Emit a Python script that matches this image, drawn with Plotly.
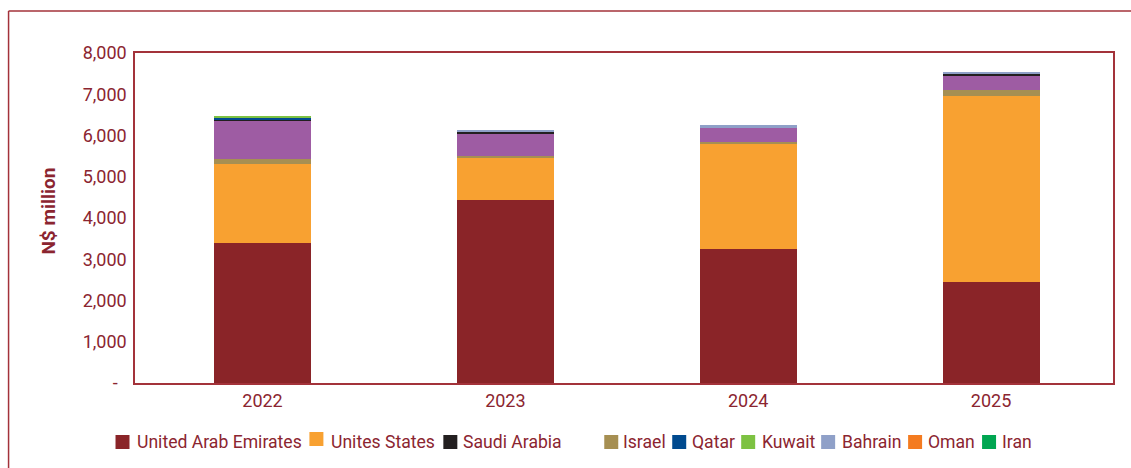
import plotly.graph_objects as go

# ---- data (N$ million) ----
years = ["2022", "2023", "2024", "2025"]
uae = [3390, 4440, 3240, 2460]
usa = [1930, 1020, 2560, 4490]
israel = [100, 50, 50, 150]
other = [950, 540, 340, 365]
saudi = [20, 25, 0, 25]
qatar = [25, 0, 0, 0]
kuwait = [50, 0, 0, 0]
bahrain = [0, 70, 70, 50]
oman = [0, 0, 0, 0]
iran = [0, 0, 0, 0]

y_ticks = [0, 1000, 2000, 3000, 4000, 5000, 6000, 7000, 8000]
y_ticktext = ["-\u00a0\u00a0"] + [f"{v:,}" for v in y_ticks[1:]]

# stacking order (bottom to top): name, values, colour, shown in legend
stack = [
    ("United Arab Emirates", uae, "#8A2428", True),
    ("Unites States", usa, "#F8A131", True),
    ("Israel", israel, "#A68F52", True),
    ("Other", other, "#9E5CA3", False),
    ("Saudi Arabia", saudi, "#231F20", True),
    ("Qatar", qatar, "#004A8F", True),
    ("Kuwait", kuwait, "#7DC242", True),
    ("Bahrain", bahrain, "#8FA0C8", True),
    ("Oman", oman, "#F47B20", True),
    ("Iran", iran, "#00A651", True),
]
legend_order = ["United Arab Emirates", "Unites States", "Saudi Arabia", "Israel",
                "Qatar", "Kuwait", "Bahrain", "Oman", "Iran"]

TEXT = "#8B2530"
LINE = "#A3323A"
FONT = "Roboto, Arial, sans-serif"

W, H = 1131, 468
M_L, M_R, M_T, M_B = 134.5, 18, 53, 85
PW, PH = W - M_L - M_R, H - M_T - M_B


def px_x(p):
    return (p - M_L) / PW


def px_y(p):
    return (H - M_B - p) / PH


fig = go.Figure()
for name, vals, col, _ in stack:
    fig.add_trace(go.Bar(x=years, y=vals, name=name, marker_color=col,
                         marker_line_width=0, width=0.4, showlegend=False))

# legend drawn as swatches + labels in a single row under the axis
legend_pos = {  # name: (swatch left px, swatch top px, label left px)
    "United Arab Emirates": (115, 435, 135),
    "Unites States": (309, 432, 330),
    "Saudi Arabia": (443, 435, 462),
    "Israel": (604, 435, 622),
    "Qatar": (672, 435, 691),
    "Kuwait": (741, 435, 761),
    "Bahrain": (821, 435, 841),
    "Oman": (908, 435, 927),
    "Iran": (982, 435, 1001),
}
colors = {name: col for name, _, col, _ in stack}
shapes = []
annotations = []
for name in legend_order:
    sx, sy, tx = legend_pos[name]
    shapes.append(dict(type="rect", xref="paper", yref="paper",
                       x0=px_x(sx), x1=px_x(sx + 14), y0=px_y(sy + 14), y1=px_y(sy),
                       fillcolor=colors[name], line_width=0))
    annotations.append(dict(text=name, xref="paper", yref="paper",
                            x=px_x(tx - 1), y=px_y(442), xanchor="left", yanchor="middle",
                            showarrow=False, font=dict(family=FONT, size=17.6, color=TEXT)))

# outer frame (top and left edges)
shapes.append(dict(type="line", xref="paper", yref="paper",
                   x0=px_x(8), x1=px_x(1140), y0=px_y(11), y1=px_y(11),
                   line=dict(color=LINE, width=1.5)))
shapes.append(dict(type="line", xref="paper", yref="paper",
                   x0=px_x(8), x1=px_x(8), y0=px_y(11), y1=px_y(480),
                   line=dict(color=LINE, width=1.5)))

annotations.append(dict(text="<b>N$ million</b>", xref="paper", yref="paper",
                        x=px_x(47), y=px_y(211), textangle=-90,
                        xanchor="center", yanchor="middle", showarrow=False,
                        font=dict(family=FONT, size=19, color=TEXT)))

fig.update_layout(
    barmode="stack",
    width=W, height=H,
    margin=dict(l=M_L, r=M_R, t=M_T, b=M_B, pad=0),
    paper_bgcolor="white", plot_bgcolor="white",
    font=dict(family=FONT, color=TEXT),
    shapes=shapes,
    annotations=annotations,
    xaxis=dict(type="category", range=[-0.525, 3.502], showgrid=False,
               showline=True, linecolor=LINE, linewidth=1.5, mirror=True,
               ticks="outside", ticklen=1, tickcolor="rgba(0,0,0,0)",
               tickfont=dict(family=FONT, size=18, color=TEXT)),
    yaxis=dict(range=[0, 8000], tickvals=y_ticks, ticktext=y_ticktext,
               showgrid=False, zeroline=False,
               showline=True, linecolor=LINE, linewidth=1.5, mirror=True,
               ticks="outside", ticklen=3, tickcolor="rgba(0,0,0,0)",
               tickfont=dict(family=FONT, size=18, color=TEXT)),
)

fig.write_html("out.html")
